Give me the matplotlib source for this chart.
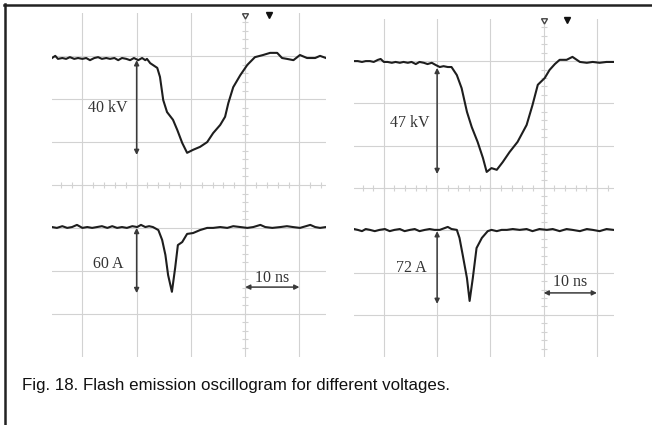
import matplotlib
matplotlib.use("Agg")
import matplotlib.pyplot as plt
from matplotlib.lines import Line2D
import numpy as np

# ---------------- data (time in ns, amplitude in screen divisions) ----------------
# Left oscillogram (40 kV / 60 A)
left_v_t = [-35.6, -35.0, -34.5, -33.7, -33.0, -32.3, -31.5, -30.8, -30.0, -29.3, -28.6, -27.8,
            -27.1, -26.4, -25.6, -24.9, -24.1, -23.4, -22.7, -21.9, -21.2, -20.5, -19.7, -19.0,
            -18.4, -18.1, -17.5, -16.2, -15.7, -15.1, -14.4, -13.3, -12.5, -11.6, -10.7, -9.6,
            -8.3, -7.0, -5.9, -4.6, -3.7, -3.1, -2.2, -0.9, 0.4, 1.8, 3.3, 4.6, 5.9, 6.8, 7.7,
            8.9, 10.1, 11.4, 12.9, 13.8, 14.9]
left_v_y = [2.96, 3.01, 2.94, 2.96, 2.94, 2.98, 2.94, 2.96, 2.94, 2.96, 2.91, 2.96,
            2.98, 2.94, 2.96, 2.94, 2.96, 2.91, 2.96, 2.94, 2.91, 2.96, 2.91, 2.96,
            2.91, 2.94, 2.84, 2.73, 2.52, 1.98, 1.70, 1.52, 1.28, 0.98, 0.75, 0.82,
            0.89, 1.00, 1.21, 1.40, 1.59, 1.91, 2.28, 2.56, 2.80, 2.98, 3.03, 3.08, 3.08, 2.96, 2.94,
            2.91, 3.03, 2.96, 2.96, 3.01, 2.96]
left_i_t = [-35.6, -34.7, -33.7, -32.8, -31.9, -31.0, -30.0, -29.1, -28.2, -27.3, -26.4, -25.4,
            -24.5, -23.6, -22.7, -21.8, -20.8, -19.9, -19.2, -18.4, -17.7, -17.0, -16.0, -15.3,
            -14.7, -14.2, -13.5, -12.9, -12.4, -11.6, -10.7, -9.6, -8.3, -7.0, -5.9, -4.6,
            -3.3, -2.2, -0.9, 0.4, 1.5, 2.8, 3.7, 5.0, 6.5, 7.7, 8.8, 10.1, 11.2, 12.0, 12.9,
            13.8, 14.9]
left_i_y = [-0.98, -1.00, -0.96, -1.00, -0.98, -0.93, -1.00, -0.98, -1.00, -0.98, -0.96, -1.00,
            -0.96, -1.00, -0.98, -1.00, -0.96, -0.98, -0.93, -0.98, -0.96, -0.98, -1.05, -1.28,
            -1.63, -2.10, -2.49, -1.93, -1.40, -1.33, -1.14, -1.12, -1.05, -1.00, -1.00, -0.98,
            -1.00, -0.96, -0.98, -1.00, -0.98, -0.93, -0.98, -1.00, -0.98, -0.96, -0.98, -1.00, -0.96, -0.93, -0.98,
            -1.00, -0.98]

# Right oscillogram (47 kV / 72 A)
right_v_t = [-35.6, -34.9, -34.1, -33.4, -32.6, -31.9, -31.1, -30.6, -30.0, -29.3, -28.5, -27.8,
             -27.0, -26.3, -25.5, -24.8, -24.0, -23.3, -22.5, -21.8, -21.0, -20.3, -19.5, -18.8,
             -18.0, -17.3, -16.3, -15.4, -14.4, -13.5, -12.4, -11.4, -10.7, -9.8, -8.8, -7.7,
             -6.4, -4.9, -3.2, -2.1, -1.1, 0.2, 1.1, 2.1, 3.0, 4.3, 5.4, 6.8, 8.1, 9.2, 10.5,
             11.8, 13.1]
right_v_y = [3.00, 3.00, 2.98, 3.00, 3.00, 2.98, 3.03, 3.05, 2.98, 2.98, 2.96, 2.98,
             2.96, 2.98, 2.96, 2.98, 2.93, 2.98, 2.96, 2.93, 2.96, 2.91, 2.86, 2.88,
             2.86, 2.86, 2.67, 2.36, 1.80, 1.44, 1.09, 0.71, 0.38, 0.47, 0.43, 0.61,
             0.85, 1.09, 1.49, 1.96, 2.44, 2.60, 2.79, 2.93, 3.03, 3.03, 3.10, 2.98, 2.96, 2.98, 2.96,
             2.98, 2.98]
right_i_t = [-35.6, -34.9, -34.1, -33.4, -32.6, -31.7, -30.8, -29.8, -28.9, -28.0, -27.0, -26.1,
             -25.1, -24.2, -23.3, -22.3, -21.4, -20.5, -19.5, -18.0, -17.3, -16.3, -15.8, -15.2,
             -14.4, -13.9, -13.3, -12.6, -11.6, -10.5, -9.8, -8.8, -7.9, -6.9, -5.8, -4.5,
             -3.2, -2.1, -0.8, 0.6, 1.7, 3.0, 4.3, 5.4, 6.8, 8.1, 9.2, 10.5, 11.8, 13.1]
right_i_y = [-0.97, -0.99, -1.02, -0.97, -0.99, -1.02, -0.99, -0.97, -1.02, -0.99, -0.97, -1.02,
             -0.99, -0.97, -1.02, -0.99, -0.97, -0.99, -0.99, -0.92, -0.97, -0.99, -1.18, -1.58,
             -2.13, -2.67, -2.13, -1.42, -1.18, -1.02, -0.99, -1.02, -0.99, -0.99, -0.97, -0.99,
             -0.97, -1.02, -0.97, -0.99, -0.97, -1.02, -0.97, -0.99, -1.02, -0.97, -0.99, -1.02, -0.97, -0.99]

# annotations: (label, arrow t, arrow y0, arrow y1, label t, label y)
left_labels = [("40 kV", -20, 2.91, 0.70, -25.3, 1.79),
               ("60 A", -20, -1.00, -2.52, -25.3, -1.84)]
right_labels = [("47 kV", -20, 2.84, 0.33, -25.1, 1.54),
                ("72 A", -20, -1.02, -2.74, -24.8, -1.89)]
time_scale_label = "10 ns"
time_scale_ns = 10
left_scale_y = (-2.38, -2.17)
right_scale_y = (-2.48, -2.22)
caption = "Fig. 18. Flash emission oscillogram for different voltages."

grid_t = [-30, -20, -10, 0, 10]
grid_v = [-3, -2, -1, 0, 1, 2, 3]

# ---------------- figure ----------------
W, H = 652, 425
fig = plt.figure(figsize=(W / 100, H / 100), dpi=100)
fig.patch.set_facecolor("white")


def px_axes(x0, x1, ytop, ybot):
    return fig.add_axes([x0 / W, 1 - ybot / H, (x1 - x0) / W, (ybot - ytop) / H])


GRID = "#d2d2d2"
TRACE = "#1e1e1e"
ANN = "#3a3a3a"
SERIF = ["Liberation Serif", "DejaVu Serif"]


def draw_panel(ax, xlim, vt, vy, it, iy, labels, scale_y):
    ax.set_xlim(*xlim)
    ax.set_ylim(-4, 4)
    ax.axis("off")
    for g in grid_v:
        ax.axhline(g, color=GRID, lw=0.8, zorder=1)
    for g in grid_t:
        ax.axvline(g, color=GRID, lw=0.8, zorder=1)
    # minor ticks on centre axes
    mt = np.arange(np.ceil(xlim[0] / 2) * 2, xlim[1], 2)
    ax.plot(mt, np.zeros_like(mt), ls="none", marker="|", ms=4, mew=0.8, color=GRID, zorder=1)
    mv = np.arange(-3.8, 4.0, 0.2)
    ax.plot(np.zeros_like(mv), mv, ls="none", marker="_", ms=4, mew=0.8, color=GRID, zorder=1)
    # traces
    ax.plot(vt, vy, color=TRACE, lw=1.5, zorder=3, solid_joinstyle="round")
    ax.plot(it, iy, color=TRACE, lw=1.5, zorder=3, solid_joinstyle="round")
    # amplitude arrows and labels
    for lab, at, a0, a1, lt, ly in labels:
        ax.annotate("", xy=(at, a1), xytext=(at, a0),
                    arrowprops=dict(arrowstyle="<|-|>", color=ANN, lw=1.1,
                                    mutation_scale=7, shrinkA=0, shrinkB=0), zorder=4)
        ax.text(lt, ly, lab, ha="center", va="center", fontsize=11.5,
                family=SERIF, color="#333333", zorder=4)
    # time scale arrow
    ax.annotate("", xy=(time_scale_ns, scale_y[0]), xytext=(0, scale_y[0]),
                arrowprops=dict(arrowstyle="<|-|>", color=ANN, lw=1.1,
                                mutation_scale=7, shrinkA=0, shrinkB=0), zorder=4)
    ax.text(time_scale_ns / 2, scale_y[1], time_scale_label, ha="center", va="center",
            fontsize=11.5, family=SERIF, color="#333333", zorder=4)
    # trigger markers at top
    ax.plot([0], [3.97], marker=(3, 0, 180), ms=5, mfc="white", mec="#444444", mew=1.0,
            clip_on=False, zorder=5)
    ax.plot([4.45], [3.97], marker="v", ms=5, color="#111111", clip_on=False, zorder=5)


axL = px_axes(52, 326, 13.4, 356.6)
draw_panel(axL, (-35.6, 14.9), left_v_t, left_v_y, left_i_t, left_i_y, left_labels, left_scale_y)
axR = px_axes(354, 614, 18.8, 357.2)
draw_panel(axR, (-35.6, 13.2), right_v_t, right_v_y, right_i_t, right_i_y, right_labels, right_scale_y)

# outer frame (left and top edges only)
fig.add_artist(Line2D([5 / W, 5 / W], [0, 1 - 4 / H], color="#222222", lw=1.8))
fig.add_artist(Line2D([4 / W, 1], [1 - 5 / H, 1 - 5 / H], color="#222222", lw=1.8))

fig.text(22 / W, 1 - 390 / H, caption, ha="left", va="baseline", fontsize=12.2,
         family=["Liberation Sans", "DejaVu Sans"], color="#111111")

fig.savefig("out.png", dpi=100, facecolor="white")
